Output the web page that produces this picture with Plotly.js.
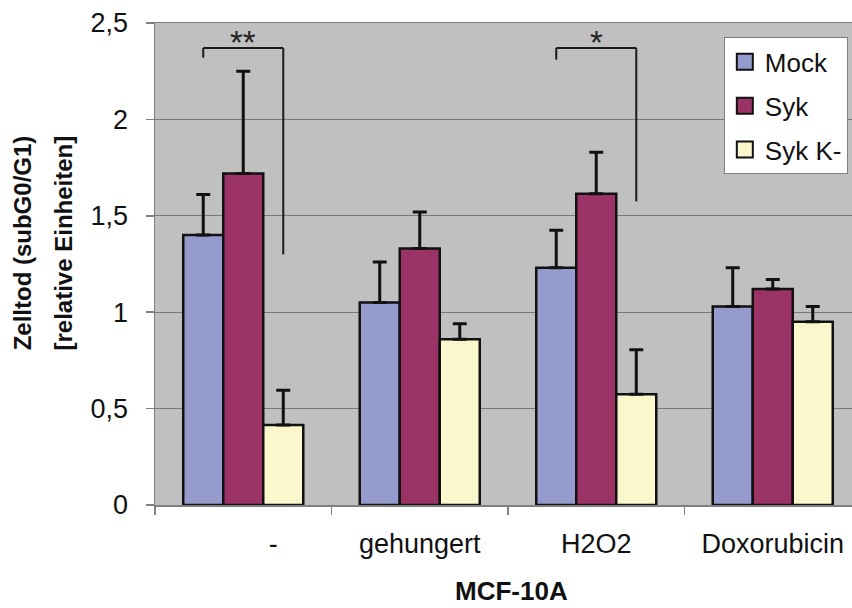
<!DOCTYPE html>
<html>
<head>
<meta charset="utf-8">
<script src="https://cdn.plot.ly/plotly-3.0.1.min.js"></script>
<style>html,body{margin:0;padding:0;background:#fff;}#chart{width:852px;height:608px;}</style>
</head>
<body>
<div id="chart"></div>
<script>
// ---- data ----
const categories = ['-', 'gehungert', 'H2O2', 'Doxorubicin'];
const tickLabels = ['\u00a0\u00a0\u00a0\u00a0\u00a0\u00a0\u00a0\u00a0-', 'gehungert', 'H2O2', 'Doxorubicin'];
const seriesNames = ['Mock', 'Syk', 'Syk K-'];
const mockValues = [1.40, 1.05, 1.23, 1.03];
const mockErrors = [0.21, 0.21, 0.195, 0.20];
const sykValues = [1.72, 1.33, 1.615, 1.12];
const sykErrors = [0.53, 0.19, 0.215, 0.05];
const sykKValues = [0.415, 0.86, 0.575, 0.95];
const sykKErrors = [0.18, 0.08, 0.23, 0.08];

// significance brackets (from Mock bar to Syk K- bar of a category)
const sigCategory = [0, 2];
const sigLabel = ['**', '*'];
const sigTop = [2.37, 2.37];
const sigLeftEnd = [2.32, 2.31];
const sigRightEnd = [1.30, 1.575];

const yTitleLines = ['Zelltod (subG0/G1)', '[relative Einheiten]'];
const xTitle = 'MCF-10A';

// ---- style ----
const FONT = 'Liberation Sans, Arial, sans-serif';
const colors = ['#959bcc', '#9b3366', '#fbf7cc'];
const bargap = 0.32;
const barW = (1 - bargap) / 3;

const valueSets = [mockValues, sykValues, sykKValues];
const errSets = [mockErrors, sykErrors, sykKErrors];

const traces = seriesNames.map((name, i) => ({
  type: 'bar',
  name: name,
  showlegend: false,
  x: categories,
  y: valueSets[i],
  marker: {color: colors[i], line: {color: '#111', width: 2.5}},
  error_y: {type: 'data', symmetric: false, array: errSets[i],
            arrayminus: errSets[i].map(() => 0),
            color: '#111', thickness: 3, width: 7}
}));
// legend entries (square swatches like the original)
seriesNames.forEach((name, i) => {
  traces.push({
    type: 'scatter', mode: 'markers', name: name, legendgroup: 'g' + i,
    x: [null], y: [null],
    marker: {symbol: 'square', size: 16, color: colors[i], line: {color: '#111', width: 2}}
  });
});

const shapes = [];
const annotations = [];
sigCategory.forEach((c, k) => {
  const xl = c - barW, xr = c + barW;
  const line = {color: '#1a1a1a', width: 2};
  shapes.push({type: 'line', xref: 'x', yref: 'y', x0: xl, x1: xr, y0: sigTop[k], y1: sigTop[k], line});
  shapes.push({type: 'line', xref: 'x', yref: 'y', x0: xl, x1: xl, y0: sigTop[k], y1: sigLeftEnd[k], line});
  shapes.push({type: 'line', xref: 'x', yref: 'y', x0: xr, x1: xr, y0: sigTop[k], y1: sigRightEnd[k], line});
  annotations.push({xref: 'x', yref: 'y', x: c, y: sigTop[k], text: sigLabel[k], showarrow: false,
    yanchor: 'bottom', yshift: -15, font: {family: FONT, size: 33, color: '#222'}});
});

// axis titles
annotations.push({xref: 'paper', yref: 'paper', x: -0.190, y: 0.544, text: '<b>' + yTitleLines[0] + '</b>',
  textangle: -90, showarrow: false, xanchor: 'center', yanchor: 'middle', font: {family: FONT, size: 24, color: '#111'}});
annotations.push({xref: 'paper', yref: 'paper', x: -0.131, y: 0.544, text: '<b>' + yTitleLines[1] + '</b>',
  textangle: -90, showarrow: false, xanchor: 'center', yanchor: 'middle', font: {family: FONT, size: 24, color: '#111'}});
annotations.push({xref: 'paper', yref: 'paper', x: 0.511, y: -0.179, text: '<b>' + xTitle + '</b>',
  showarrow: false, xanchor: 'center', yanchor: 'middle', font: {family: FONT, size: 26, color: '#111'}});

const layout = {
  width: 852, height: 608,
  margin: {l: 155, r: 0, t: 23, b: 103},
  paper_bgcolor: '#ffffff',
  plot_bgcolor: '#c0c0c0',
  separators: ',.',
  barmode: 'group',
  bargap: bargap,
  bargroupgap: 0,
  font: {family: FONT, size: 26, color: '#111'},
  xaxis: {
    type: 'category',
    range: [-0.5, 3.449],
    tickmode: 'array', tickvals: categories, ticktext: tickLabels,
    tickson: 'boundaries',
    ticks: 'outside', ticklen: 8, tickwidth: 1.5, tickcolor: '#808080',
    showline: true, linecolor: '#808080', linewidth: 1.5, mirror: true,
    showgrid: false, zeroline: false,
    ticklabelstandoff: 14,
    tickfont: {family: FONT, size: 27, color: '#111'}
  },
  yaxis: {
    range: [0, 2.5], dtick: 0.5, tick0: 0,
    ticks: 'outside', ticklen: 8, tickwidth: 1.5, tickcolor: '#808080',
    showline: true, linecolor: '#808080', linewidth: 1.5,
    showgrid: true, gridcolor: '#7a7a7a', gridwidth: 1, zeroline: false,
    ticklabelstandoff: 12,
    tickfont: {family: FONT, size: 27, color: '#111'}
  },
  legend: {
    x: 0.994, xanchor: 'right', y: 0.970, yanchor: 'top',
    bgcolor: '#ffffff', bordercolor: '#808080', borderwidth: 1,
    font: {family: FONT, size: 26, color: '#111'},
    traceorder: 'grouped', tracegroupgap: 7, itemwidth: 30
  },
  shapes: shapes,
  annotations: annotations,
  showlegend: true
};

Plotly.newPlot('chart', traces, layout, {displayModeBar: false, staticPlot: true});
</script>
</body>
</html>
